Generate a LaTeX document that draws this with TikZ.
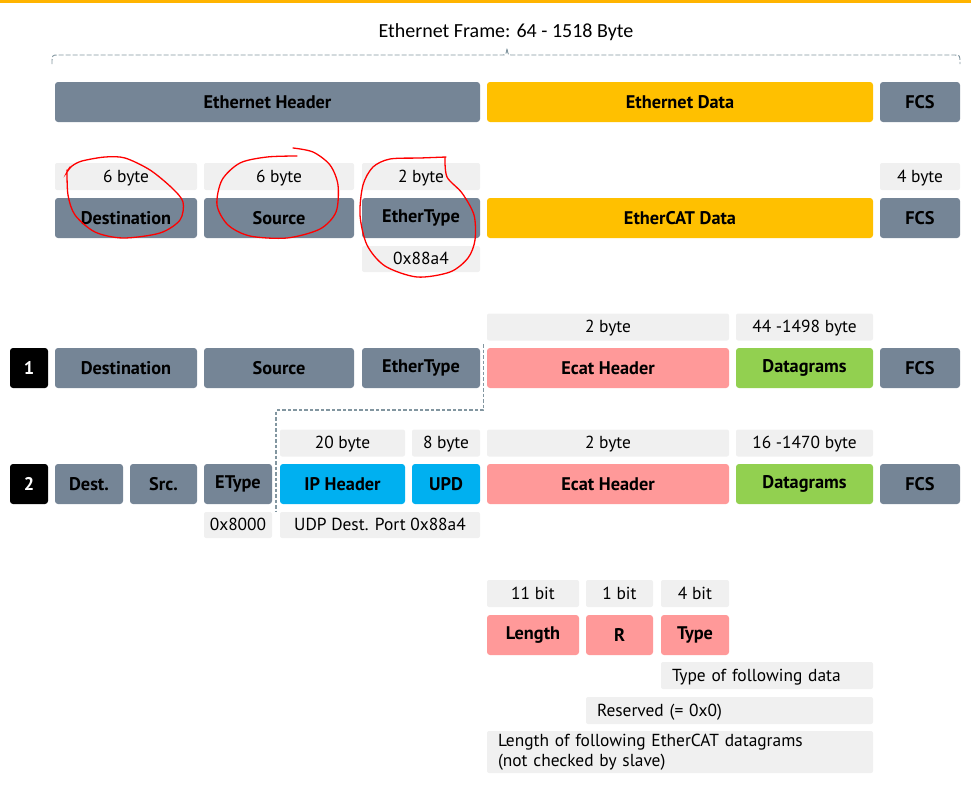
\documentclass[tikz,border=0pt]{standalone}
\usepackage{fontspec}
\setmainfont{PT Sans}
\newfontfamily\titlefont{Carlito}
\definecolor{hdrgray}{RGB}{117,133,150}
\definecolor{datayel}{RGB}{255,192,0}
\definecolor{ecatpink}{RGB}{255,153,153}
\definecolor{dgramgreen}{RGB}{146,208,80}
\definecolor{udpblue}{RGB}{0,176,240}
\definecolor{labgray}{RGB}{240,240,240}
\definecolor{topbar}{RGB}{255,180,0}
\definecolor{cutgray}{RGB}{130,150,160}
\begin{document}
\begin{tikzpicture}[x=1pt,y=-1pt,
		every node/.style={font=\fontsize{17.4}{20}\selectfont, inner sep=0pt},
		field/.style={rounded corners=3pt, minimum height=40, font=\fontsize{18.3}{20}\selectfont\bfseries},
		hdr/.style={field, fill=hdrgray},
		dat/.style={field, fill=datayel},
		ecat/.style={field, fill=ecatpink},
		dgram/.style={field, fill=dgramgreen},
		udp/.style={field, fill=udpblue},
		num/.style={field, fill=black, text=white, minimum width=38},
		size/.style={rounded corners=2pt, fill=labgray, minimum height=27, text height=13.5pt, text depth=2.5pt},
		note/.style={size, align=left, inner xsep=11pt},
		cut/.style={cutgray, dash pattern=on 3.5pt off 2pt, line width=1.3pt},
		circ/.style={red, line width=1.3pt, line cap=round}]
	\useasboundingbox (0,0) rectangle (971,790);
	\fill[topbar] (0,0) rectangle (971,3);
	
	\node[font=\titlefont\fontsize{20}{22}\selectfont] (title) at (506,32) {Ethernet Frame: 64 - 1518 Byte};
	\draw[cut, line width=0.9pt, dash pattern=on 5pt off 2pt] (52,64) .. controls (52,55) .. (58,55) -- (502,55) .. controls (506,55) .. (507,48) .. controls (508,55) .. (512,55) -- (954,55) .. controls (960,55) .. (960,64);
	
	\node[hdr, minimum width=425] (ethhdr) at (267.5,102) {Ethernet Header};
	\node[dat, minimum width=386] (ethdata) at (680,102) {Ethernet Data};
	\node[hdr, minimum width=80] (fcs0) at (920,102) {FCS};
	
	\node[size, minimum width=142] (szdst) at (126,176.5) {6 byte};
	\node[size, minimum width=150] (szsrc) at (279,176.5) {6 byte};
	\node[size, minimum width=118] (sztype) at (421,176.5) {2 byte};
	\node[size, minimum width=80] (szfcs) at (920,176.5) {4 byte};
	\node[hdr, minimum width=142] (dsta) at (126,218) {Destination};
	\node[hdr, minimum width=150] (srca) at (279,218) {Source};
	\node[hdr, minimum width=118] (typea) at (421,218) {EtherType};
	\node[dat, minimum width=386] (ecdata) at (680,218) {EtherCAT Data};
	\node[hdr, minimum width=80] (fcsa) at (920,218) {FCS};
	\node[size, minimum width=118, minimum height=26] (typeval) at (421,259) {0x88a4};
	
	\node[size, minimum width=242] (szecat1) at (608,327) {2 byte};
	\node[size, minimum width=137] (szdgram1) at (804.5,327) {44 -1498 byte};
	\node[num] (num1) at (29,368) {1};
	\node[hdr, minimum width=142] (dst1) at (126,368) {Destination};
	\node[hdr, minimum width=150] (src1) at (279,368) {Source};
	\node[hdr, minimum width=118] (type1) at (421,368) {EtherType};
	\node[ecat, minimum width=242] (ecat1) at (608,368) {Ecat Header};
	\node[dgram, minimum width=137] (dgram1) at (804.5,368) {Datagrams};
	\node[hdr, minimum width=80] (fcs1) at (920,368) {FCS};
	
	\coordinate (cuttop) at (483.5,344);
	\coordinate (cutbot) at (276,512);
	\draw[cut, white!82!black, xshift=1.5, yshift=-1.5] (cuttop) -- ++(0,66) -| (cutbot);
	\draw[cut] (cuttop) -- ++(0,66) -| (cutbot);
	
	\node[size, minimum width=125] (szip) at (342.5,443) {20 byte};
	\node[size, minimum width=68] (szudp) at (446,443) {8 byte};
	\node[size, minimum width=242] (szecat2) at (608,443) {2 byte};
	\node[size, minimum width=137] (szdgram2) at (804.5,443) {16 -1470 byte};
	\node[num] (num2) at (29,484) {2};
	\node[hdr, minimum width=68] (dst2) at (89,484) {Dest.};
	\node[hdr, minimum width=67] (src2) at (163.5,484) {Src.};
	\node[hdr, minimum width=68] (type2) at (238,484) {EType};
	\node[udp, minimum width=125] (ip2) at (342.5,484) {IP Header};
	\node[udp, minimum width=68] (udp2) at (446,484) {UPD};
	\node[ecat, minimum width=242] (ecat2) at (608,484) {Ecat Header};
	\node[dgram, minimum width=137] (dgram2) at (804.5,484) {Datagrams};
	\node[hdr, minimum width=80] (fcs2) at (920,484) {FCS};
	\node[size, minimum width=68, minimum height=26] (typeval2) at (238,525) {0x8000};
	\node[size, minimum width=200, minimum height=26] (portval) at (380,525) {UDP Dest. Port 0x88a4};
	
	\node[size, minimum width=92] (szlen) at (533,593.5) {11 bit};
	\node[size, minimum width=67] (szres) at (619.5,593.5) {1 bit};
	\node[size, minimum width=68] (szetype) at (695,593.5) {4 bit};
	\node[ecat, minimum width=92] (len) at (533,635) {Length};
	\node[ecat, minimum width=67] (res) at (619.5,635) {R};
	\node[ecat, minimum width=68] (etype) at (695,635) {Type};
	\node[note, text width=190] (typenote) at (767,675.5) {Type of following data};
	\node[note, text width=265] (resnote) at (729.5,710.5) {Reserved (= 0x0)};
	\node[note, text width=364, minimum height=42, text height=, text depth=] (lennote) at (680,752) {Length of following EtherCAT datagrams\\(not checked by slave)};
	
	\draw[circ] plot[smooth] coordinates {(70,167) (67,172) (72,166) (82,161) (105,157) (125,158) (150,170) (172,188) (183,202) (180,220) (160,233) (123,238) (95,232) (75,215) (68,195) (67,170)};
	\draw[circ] plot[smooth] coordinates {(297,156) (267,157) (240,163) (222,180) (217,205) (228,225) (250,236) (287,238) (320,229) (336,212) (338,185) (330,165) (313,152) (293,148)};
	\draw[circ] plot[smooth] coordinates {(445,158) (447,177) (462,193) (474,215) (475,240) (468,258) (450,272) (417,277) (385,266) (367,245) (360,215) (363,185) (373,167) (390,159) (420,158) (446,157)};
\end{tikzpicture}
\end{document}
